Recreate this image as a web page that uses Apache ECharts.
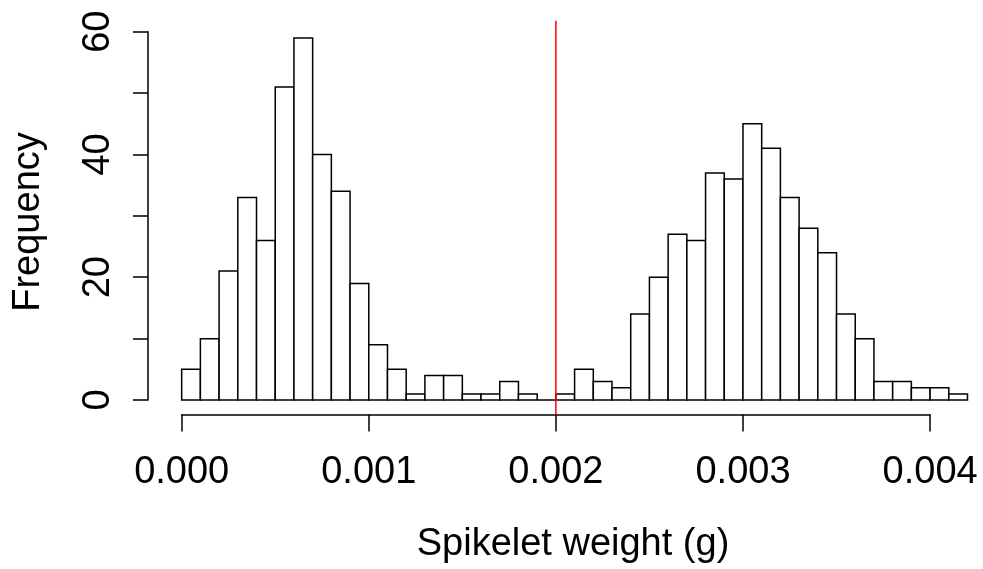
<!DOCTYPE html>
<html>
<head>
<meta charset="utf-8">
<script src="https://cdn.jsdelivr.net/npm/echarts@6/dist/echarts.min.js"></script>
<style>
html,body{margin:0;padding:0;background:#fff;}
#chart{width:983px;height:569px;}
</style>
</head>
<body>
<div id="chart"></div>
<script>
// Histogram bins (left edges, g) and counts
var binLeft = [0.0000,0.0001,0.0002,0.0003,0.0004,0.0005,0.0006,0.0007,0.0008,0.0009,
               0.0010,0.0011,0.0012,0.0013,0.0014,0.0015,0.0016,0.0017,0.0018,0.0019,
               0.0020,0.0021,0.0022,0.0023,0.0024,0.0025,0.0026,0.0027,0.0028,0.0029,
               0.0030,0.0031,0.0032,0.0033,0.0034,0.0035,0.0036,0.0037,0.0038,0.0039,
               0.0040,0.0041];
var binWidth = 0.0001;
var counts = [5,10,21,33,26,51,59,40,34,19,
              9,5,1,4,4,1,1,3,1,0,
              1,5,3,2,14,20,27,26,37,36,
              45,41,33,28,24,14,10,3,3,2,
              2,1];
var xTicks = [0, 0.001, 0.002, 0.003, 0.004];
var yTicks = [0, 10, 20, 30, 40, 50, 60];
var yLabelTicks = [0, 20, 40, 60];
var refLineX = 0.002;
var xTitle = 'Spikelet weight (g)';
var yTitle = 'Frequency';

var FONT = '"Liberation Sans", Arial, sans-serif';
var FS = 38;
var dataXMin = -0.00018, dataXMax = 0.0042;
var dataYMin = -2.36, dataYMax = 61.8;

var chart = echarts.init(document.getElementById('chart'), null, {renderer: 'canvas'});

var histData = binLeft.map(function (b, i) { return [b, b + binWidth, counts[i]]; });

var option = {
  backgroundColor: '#ffffff',
  animation: false,
  grid: [
    {left: 148, right: 15.5, top: 20.7, bottom: 154.5},
    {left: 181.68, right: 52.9, top: 20.7, bottom: 154.5},
    {left: 148, right: 15.5, top: 31.7, bottom: 169}
  ],
  xAxis: [
    {type: 'value', gridIndex: 0, min: dataXMin, max: dataXMax, show: false},
    {type: 'value', gridIndex: 1, min: xTicks[0], max: xTicks[xTicks.length - 1], interval: 0.001,
     axisLine: {show: true, lineStyle: {color: '#000', width: 1.5}},
     axisTick: {show: true, inside: false, length: 17, lineStyle: {color: '#000', width: 1.5}},
     splitLine: {show: false},
     axisLabel: {show: true, margin: 39, color: '#000', fontFamily: FONT, fontSize: FS,
       formatter: function (v) { return v.toFixed(3); }}},
    {type: 'value', gridIndex: 2, min: 0, max: 1, show: false}
  ],
  yAxis: [
    {type: 'value', gridIndex: 0, min: dataYMin, max: dataYMax, show: false},
    {type: 'value', gridIndex: 1, min: 0, max: 1, show: false},
    {type: 'value', gridIndex: 2, min: yTicks[0], max: yTicks[yTicks.length - 1], interval: 10,
     axisLine: {show: true, lineStyle: {color: '#000', width: 1.5}},
     axisTick: {show: true, inside: false, length: 15, lineStyle: {color: '#000', width: 1.5}},
     splitLine: {show: false},
     axisLabel: {show: true, rotate: 90, margin: 30, color: '#000', fontFamily: FONT, fontSize: FS,
       formatter: function (v) { return yLabelTicks.indexOf(v) >= 0 ? String(v) : ''; }}}
  ],
  series: [
    {
      type: 'custom',
      xAxisIndex: 0, yAxisIndex: 0,
      data: histData,
      encode: {x: [0, 1], y: 2},
      renderItem: function (params, api) {
        var p0 = api.coord([api.value(0), api.value(2)]);
        var p1 = api.coord([api.value(1), 0]);
        return {
          type: 'rect',
          shape: {x: p0[0], y: p0[1], width: p1[0] - p0[0], height: p1[1] - p0[1]},
          style: {fill: '#ffffff', stroke: '#000000', lineWidth: 1.5}
        };
      },
      z: 2
    },
    {
      type: 'line',
      xAxisIndex: 0, yAxisIndex: 0,
      data: [[refLineX, dataYMin], [refLineX, dataYMax]],
      symbol: 'none',
      silent: true,
      lineStyle: {color: '#ff0000', width: 1.5},
      z: 5
    }
  ],
  graphic: [
    {type: 'text', x: 573, y: 545,
     style: {text: xTitle, fontFamily: FONT, fontSize: FS, fill: '#000', align: 'center', verticalAlign: 'middle'}},
    {type: 'text', x: 28.6, y: 222, rotation: Math.PI / 2,
     style: {text: yTitle, fontFamily: FONT, fontSize: FS, fill: '#000', align: 'center', verticalAlign: 'middle'}}
  ]
};
chart.setOption(option);
</script>
</body>
</html>
